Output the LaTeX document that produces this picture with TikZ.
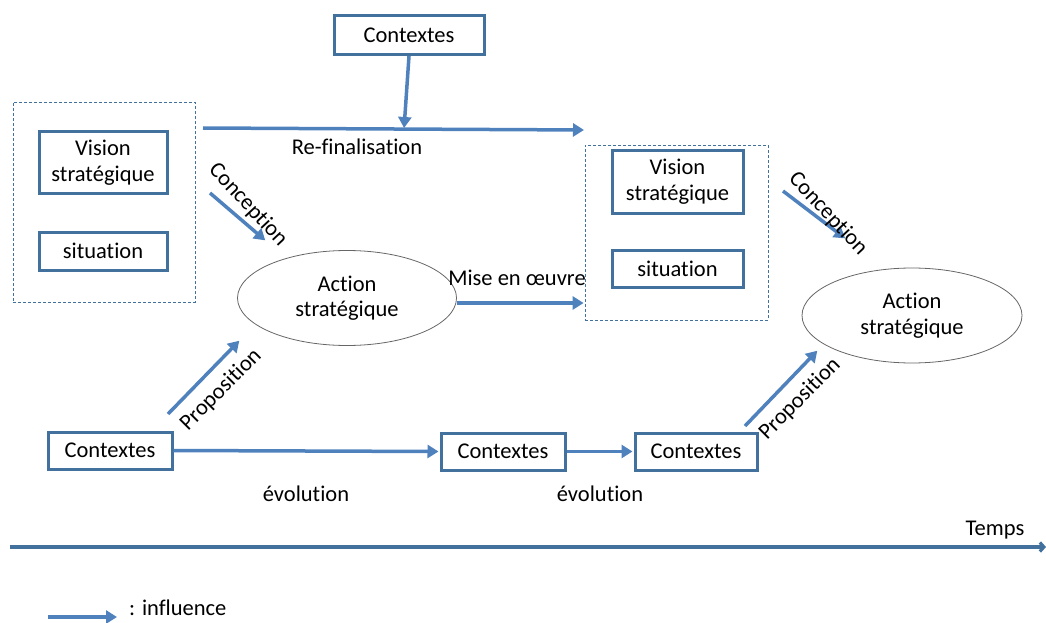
\documentclass[tikz,border=0pt]{standalone}
\usepackage{fontspec}
\setmainfont{Carlito}[Ligatures=NoCommon]
\usetikzlibrary{arrows.meta,shapes.geometric}
\definecolor{ob}{HTML}{4F81BD}
\definecolor{obd}{HTML}{41719C}
\tikzset{
  box/.style={draw=obd,line width=3pt,fill=white,align=center,font=\fontsize{22.5}{26}\selectfont,inner sep=0pt},
  grp/.style={draw=obd,dash pattern=on 3pt off 2pt,line width=0.8pt},
  ell/.style={draw=gray!80!black,line width=0.8pt,ellipse,align=center,font=\fontsize{22.5}{25.5}\selectfont,inner sep=0pt},
  infl/.style={draw=ob,line width=3.5pt,-{Triangle[width=13pt,length=11pt]},shorten >=1pt},
  lbl/.style={font=\fontsize{22.5}{27}\selectfont,inner sep=0pt},
}
\begin{document}
\begin{tikzpicture}[x=1pt,y=-1pt]
\useasboundingbox (0,0) rectangle (1046,623);
% top contextes
\node[box,minimum width=150pt,minimum height=39pt] (ctop) at (409,35) {Contextes};
% left group
\node[grp,minimum width=182pt,minimum height=200pt] (g1) at (104,202) {};
\node[box,minimum width=128pt,minimum height=61pt] (v1) at (103,162.5) {Vision\\strat\'egique};
\node[box,minimum width=128pt,minimum height=38pt] (s1) at (103,251) {situation};
% middle group
\node[grp,minimum width=183pt,minimum height=175pt] (g2) at (676.5,232.5) {};
\node[box,minimum width=131pt,minimum height=63pt] (v2) at (677.5,181.5) {Vision\\strat\'egique};
\node[box,minimum width=131pt,minimum height=37pt] (s2) at (677.5,268.5) {situation};
% ellipses
\node[ell,minimum width=219pt,minimum height=95pt] (a1) at (347,298) {Action\\strat\'egique};
\node[ell,minimum width=220pt,minimum height=95pt] (a2) at (912,315.5) {Action\\strat\'egique};
% bottom contextes
\node[box,minimum width=124pt,minimum height=37pt] (c1) at (110,450.5) {Contextes};
\node[box,minimum width=124pt,minimum height=37pt] (c2) at (503,451.5) {Contextes};
\node[box,minimum width=122pt,minimum height=37pt] (c3) at (696,451.5) {Contextes};
% coordinates
\coordinate (rf0) at (203,128);
\coordinate (rf1) at (585,130);
\coordinate (rfm) at (404,129);
\coordinate (cc0) at (210,193);
\coordinate (cc1) at (266,241);
\coordinate (cd0) at (783,191);
\coordinate (cd1) at (846,239);
\coordinate (p0) at (168,414);
\coordinate (p1) at (240,340);
\coordinate (q0) at (745,426);
\coordinate (q1) at (818,350);
\coordinate (m0) at (457,303);
\coordinate (t0) at (10,547);
\coordinate (t1) at (1046,547);
\coordinate (l0) at (48,617);
\coordinate (l1) at (118,617);
% arrows
\draw[infl] (ctop.south) -- (rfm);
\draw[infl] (rf0) -- (rf1);
\draw[infl] (cc0) -- (cc1);
\draw[infl] (cd0) -- (cd1);
\draw[infl] (m0) -- (g2.west |- m0);
\draw[infl] (p0) -- (p1);
\draw[infl] (q0) -- (q1);
\draw[infl] (c1.east) -- (c2.west);
\draw[infl] (c2.east) -- (c3.west);
\draw[draw=obd,line width=3.2pt,-{Straight Barb[length=4pt,width=9pt]}] (t0) -- (t1);
\draw[infl] (l0) -- (l1);
% labels
\node[lbl] (lrf) at (357,147) {Re-finalisation};
\node[lbl,rotate=-47] (lc1) at (248,205) {Conception};
\node[lbl,rotate=-47] (lc2) at (828,214) {Conception};
\node[lbl,rotate=45] (lp1) at (221,390) {Proposition};
\node[lbl,rotate=45] (lp2) at (800,399) {Proposition};
\node[lbl] (lm) at (517,278) {Mise en \oe uvre};
\node[lbl] (le1) at (306,494) {\'evolution};
\node[lbl] (le2) at (600,494) {\'evolution};
\node[lbl] (lt) at (995,530) {Temps};
\node[lbl,anchor=west] (li) at (129,608) {: influence};
\end{tikzpicture}
\end{document}
